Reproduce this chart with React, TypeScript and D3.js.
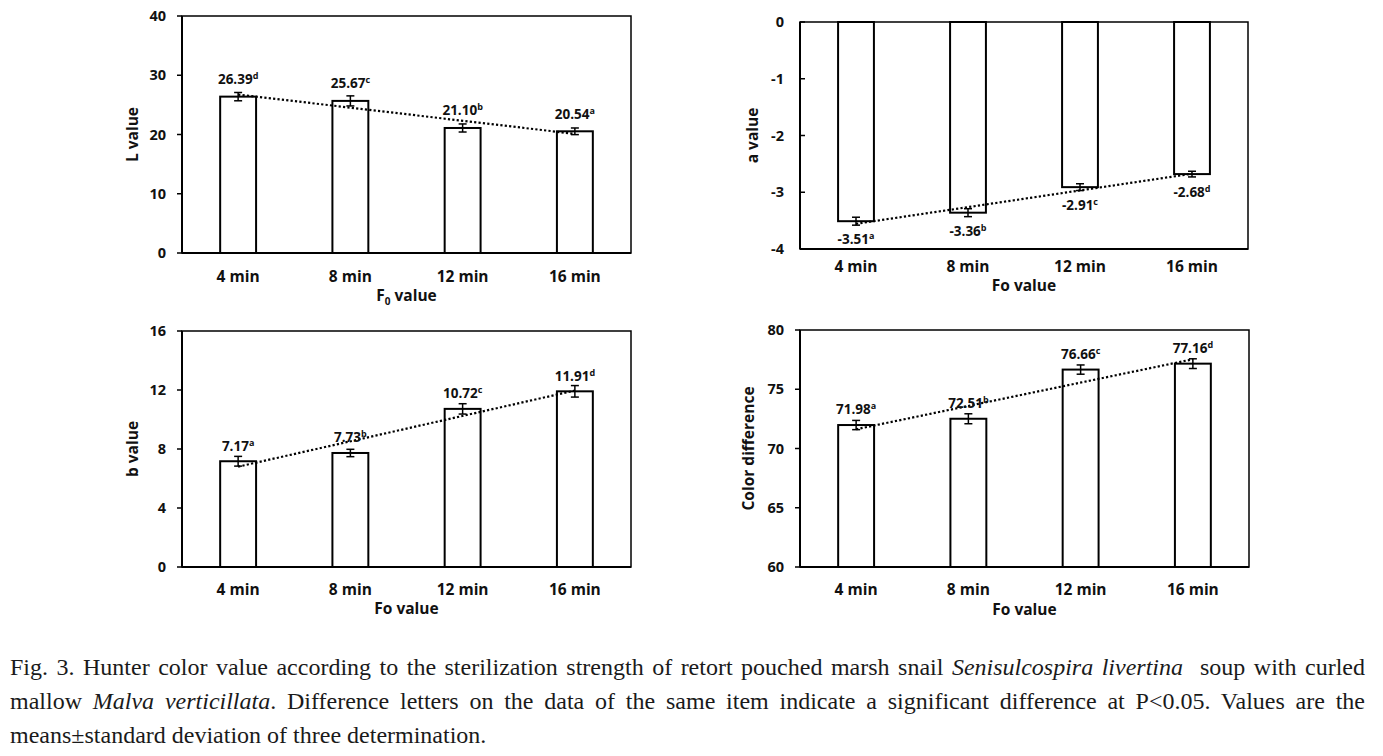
import React from "react";
import * as d3 from "d3";

const categories = ["4 min", "8 min", "12 min", "16 min"];

const lValues = [26.39, 25.67, 21.1, 20.54];
const lSD = [0.7, 0.85, 0.68, 0.56];
const lLetters = ["d", "c", "b", "a"];
const lTicks = [0, 10, 20, 30, 40];

const aValues = [-3.51, -3.36, -2.91, -2.68];
const aSD = [0.07, 0.07, 0.06, 0.05];
const aLetters = ["a", "b", "c", "d"];
const aTicks = [0, -1, -2, -3, -4];

const bValues = [7.17, 7.73, 10.72, 11.91];
const bSD = [0.33, 0.25, 0.35, 0.39];
const bLetters = ["a", "b", "c", "d"];
const bTicks = [0, 4, 8, 12, 16];

const cdValues = [71.98, 72.51, 76.66, 77.16];
const cdSD = [0.39, 0.42, 0.39, 0.41];
const cdLetters = ["a", "b", "c", "d"];
const cdTicks = [60, 65, 70, 75, 80];

const FONT = "'Open Sans', 'Noto Sans', sans-serif";

type PanelProps = {
  left: number;
  right: number;
  top: number;
  bottom: number;
  domain: [number, number];
  values: number[];
  sd: number[];
  letters: string[];
  ticks: number[];
  yTitle: string;
  xTitle: React.ReactNode;
  yTitleX: number;
  catBaseline: number;
  xTitleBaseline: number;
  negative?: boolean;
  tickInward?: boolean;
  labelGap: number;
};

function regression(vals: number[]) {
  const xs = vals.map((_, i) => i + 1);
  const mx = d3.mean(xs) as number;
  const my = d3.mean(vals) as number;
  let num = 0;
  let den = 0;
  xs.forEach((x, i) => {
    num += (x - mx) * (vals[i] - my);
    den += (x - mx) * (x - mx);
  });
  const slope = num / den;
  const intercept = my - slope * mx;
  return (x: number) => intercept + slope * x;
}

function Panel(p: PanelProps) {
  const x = d3
    .scaleBand<string>()
    .domain(categories)
    .range([p.left, p.right])
    .paddingInner(0.68)
    .paddingOuter(0.34);
  const y = d3.scaleLinear().domain(p.domain).range([p.bottom, p.top]);
  const base = p.negative ? y(0) : p.bottom;
  const fit = regression(p.values);
  const cx = (c: string) => (x(c) as number) + x.bandwidth() / 2;
  const first = categories[0];
  const last = categories[categories.length - 1];
  const tickLen = 5;
  return (
    <g>
      <rect
        x={p.left}
        y={p.top}
        width={p.right - p.left}
        height={p.bottom - p.top}
        fill="none"
        stroke="#000"
        strokeWidth={1.5}
      />
      <line x1={p.left} x2={p.left} y1={p.top} y2={p.bottom} stroke="#000" strokeWidth={2} />
      <line x1={p.left} x2={p.right} y1={p.bottom} y2={p.bottom} stroke="#000" strokeWidth={2} />
      {p.ticks.map((t) => (
        <g key={t}>
          <line
            x1={p.left}
            x2={p.tickInward ? p.left + tickLen : p.left - tickLen}
            y1={y(t)}
            y2={y(t)}
            stroke="#000"
            strokeWidth={1.5}
          />
          <text
            x={p.left - 16}
            y={y(t)}
            dy="0.36em"
            textAnchor="end"
            fontFamily={FONT}
            fontWeight={700}
            fontSize={14.5}
            fill="#111"
          >
            {t}
          </text>
        </g>
      ))}
      {categories.map((c, i) => {
        const v = p.values[i];
        const yv = y(v);
        const yTop = Math.min(yv, base);
        const h = Math.abs(yv - base);
        return (
          <rect
            key={c}
            x={x(c)}
            y={yTop}
            width={x.bandwidth()}
            height={h}
            fill="#fff"
            stroke="#000"
            strokeWidth={2}
          />
        );
      })}
      {categories.map((c, i) => {
        const v = p.values[i];
        const s = p.sd[i];
        const xc = cx(c);
        const y1 = y(v + s);
        const y2 = y(v - s);
        return (
          <g key={c} stroke="#000" strokeWidth={1.5}>
            <line x1={xc} x2={xc} y1={y1} y2={y2} />
            <line x1={xc - 4} x2={xc + 4} y1={y1} y2={y1} />
            <line x1={xc - 4} x2={xc + 4} y1={y2} y2={y2} />
          </g>
        );
      })}
      <line
        x1={cx(first)}
        y1={y(fit(1))}
        x2={cx(last)}
        y2={y(fit(categories.length))}
        stroke="#000"
        strokeWidth={2.2}
        strokeDasharray="2.2 2.2"
      />
      {categories.map((c, i) => {
        const v = p.values[i];
        const ly = p.negative ? y(v) + p.labelGap : y(v) - p.labelGap;
        return (
          <text
            key={c}
            x={cx(c)}
            y={ly}
            textAnchor="middle"
            fontFamily={FONT}
            fontWeight={700}
            fontSize={13.5}
            fill="#111"
          >
            <tspan>{v.toFixed(2)}</tspan>
            <tspan fontSize={9} dy={-5}>
              {p.letters[i]}
            </tspan>
          </text>
        );
      })}
      {categories.map((c) => (
        <text
          key={c}
          x={cx(c)}
          y={p.catBaseline}
          textAnchor="middle"
          fontFamily={FONT}
          fontWeight={700}
          fontSize={15.5}
          fill="#111"
        >
          {c}
        </text>
      ))}
      <text
        x={(p.left + p.right) / 2}
        y={p.xTitleBaseline}
        textAnchor="middle"
        fontFamily={FONT}
        fontWeight={700}
        fontSize={15.5}
        fill="#111"
      >
        {p.xTitle}
      </text>
      <text
        transform={`translate(${p.yTitleX},${(p.top + p.bottom) / 2}) rotate(-90)`}
        dy="0.36em"
        textAnchor="middle"
        fontFamily={FONT}
        fontWeight={700}
        fontSize={15.5}
        fill="#111"
      >
        {p.yTitle}
      </text>
    </g>
  );
}

const captionLines = [
  [
    { t: "Fig. 3. Hunter color value according to the sterilization strength of retort pouched marsh snail ", i: false },
    { t: "Senisulcospira livertina", i: true },
    { t: "\u00a0 soup with curled", i: false },
  ],
  [
    { t: "mallow ", i: false },
    { t: "Malva verticillata", i: true },
    { t: ". Difference letters on the data of the same item indicate a significant difference at P<0.05. Values are the", i: false },
  ],
  [{ t: "means\u00b1standard deviation of three determination.", i: false }],
];

export default function App() {
  return (
    <div
      style={{
        position: "absolute",
        left: 0,
        top: 0,
        width: 1383,
        height: 756,
        background: "#fff",
        overflow: "hidden",
      }}
    >
      <svg width={1383} height={640} style={{ position: "absolute", left: 0, top: 0 }}>
        <Panel
          left={182}
          right={631}
          top={16}
          bottom={253}
          domain={[0, 40]}
          values={lValues}
          sd={lSD}
          letters={lLetters}
          ticks={lTicks}
          yTitle="L value"
          xTitle={
            <>
              <tspan>F</tspan>
              <tspan fontSize={10} dy={4}>
                0
              </tspan>
              <tspan dy={-4}> value</tspan>
            </>
          }
          yTitleX={132}
          catBaseline={282}
          xTitleBaseline={301}
          labelGap={12.5}
        />
        <Panel
          left={800}
          right={1248}
          top={22}
          bottom={249}
          domain={[-4, 0]}
          values={aValues}
          sd={aSD}
          letters={aLetters}
          ticks={aTicks}
          yTitle="a value"
          xTitle="Fo value"
          yTitleX={752}
          catBaseline={272}
          xTitleBaseline={291}
          negative
          tickInward
          labelGap={23}
        />
        <Panel
          left={182}
          right={631}
          top={331}
          bottom={567}
          domain={[0, 16]}
          values={bValues}
          sd={bSD}
          letters={bLetters}
          ticks={bTicks}
          yTitle="b value"
          xTitle="Fo value"
          yTitleX={132}
          catBaseline={595}
          xTitleBaseline={614}
          labelGap={10.5}
        />
        <Panel
          left={800}
          right={1249}
          top={330}
          bottom={567}
          domain={[60, 80]}
          values={cdValues}
          sd={cdSD}
          letters={cdLetters}
          ticks={cdTicks}
          yTitle="Color difference"
          xTitle="Fo value"
          yTitleX={748}
          catBaseline={595}
          xTitleBaseline={615}
          labelGap={11}
        />
      </svg>
      <div
        style={{
          position: "absolute",
          left: 10,
          top: 650,
          width: 1355,
          fontFamily: "'Liberation Serif', 'Times New Roman', serif",
          fontSize: 24,
          lineHeight: "34px",
          color: "#1a1a1a",
        }}
      >
        {captionLines.map((line, li) => (
          <div
            key={li}
            style={{
              whiteSpace: "nowrap",
              textAlign: li < 2 ? "justify" : "left",
              textAlignLast: li < 2 ? "justify" : "left",
            }}
          >
            {line.map((s, si) => (
              <span key={si} style={{ fontStyle: s.i ? "italic" : "normal" }}>
                {s.t}
              </span>
            ))}
          </div>
        ))}
      </div>
    </div>
  );
}
